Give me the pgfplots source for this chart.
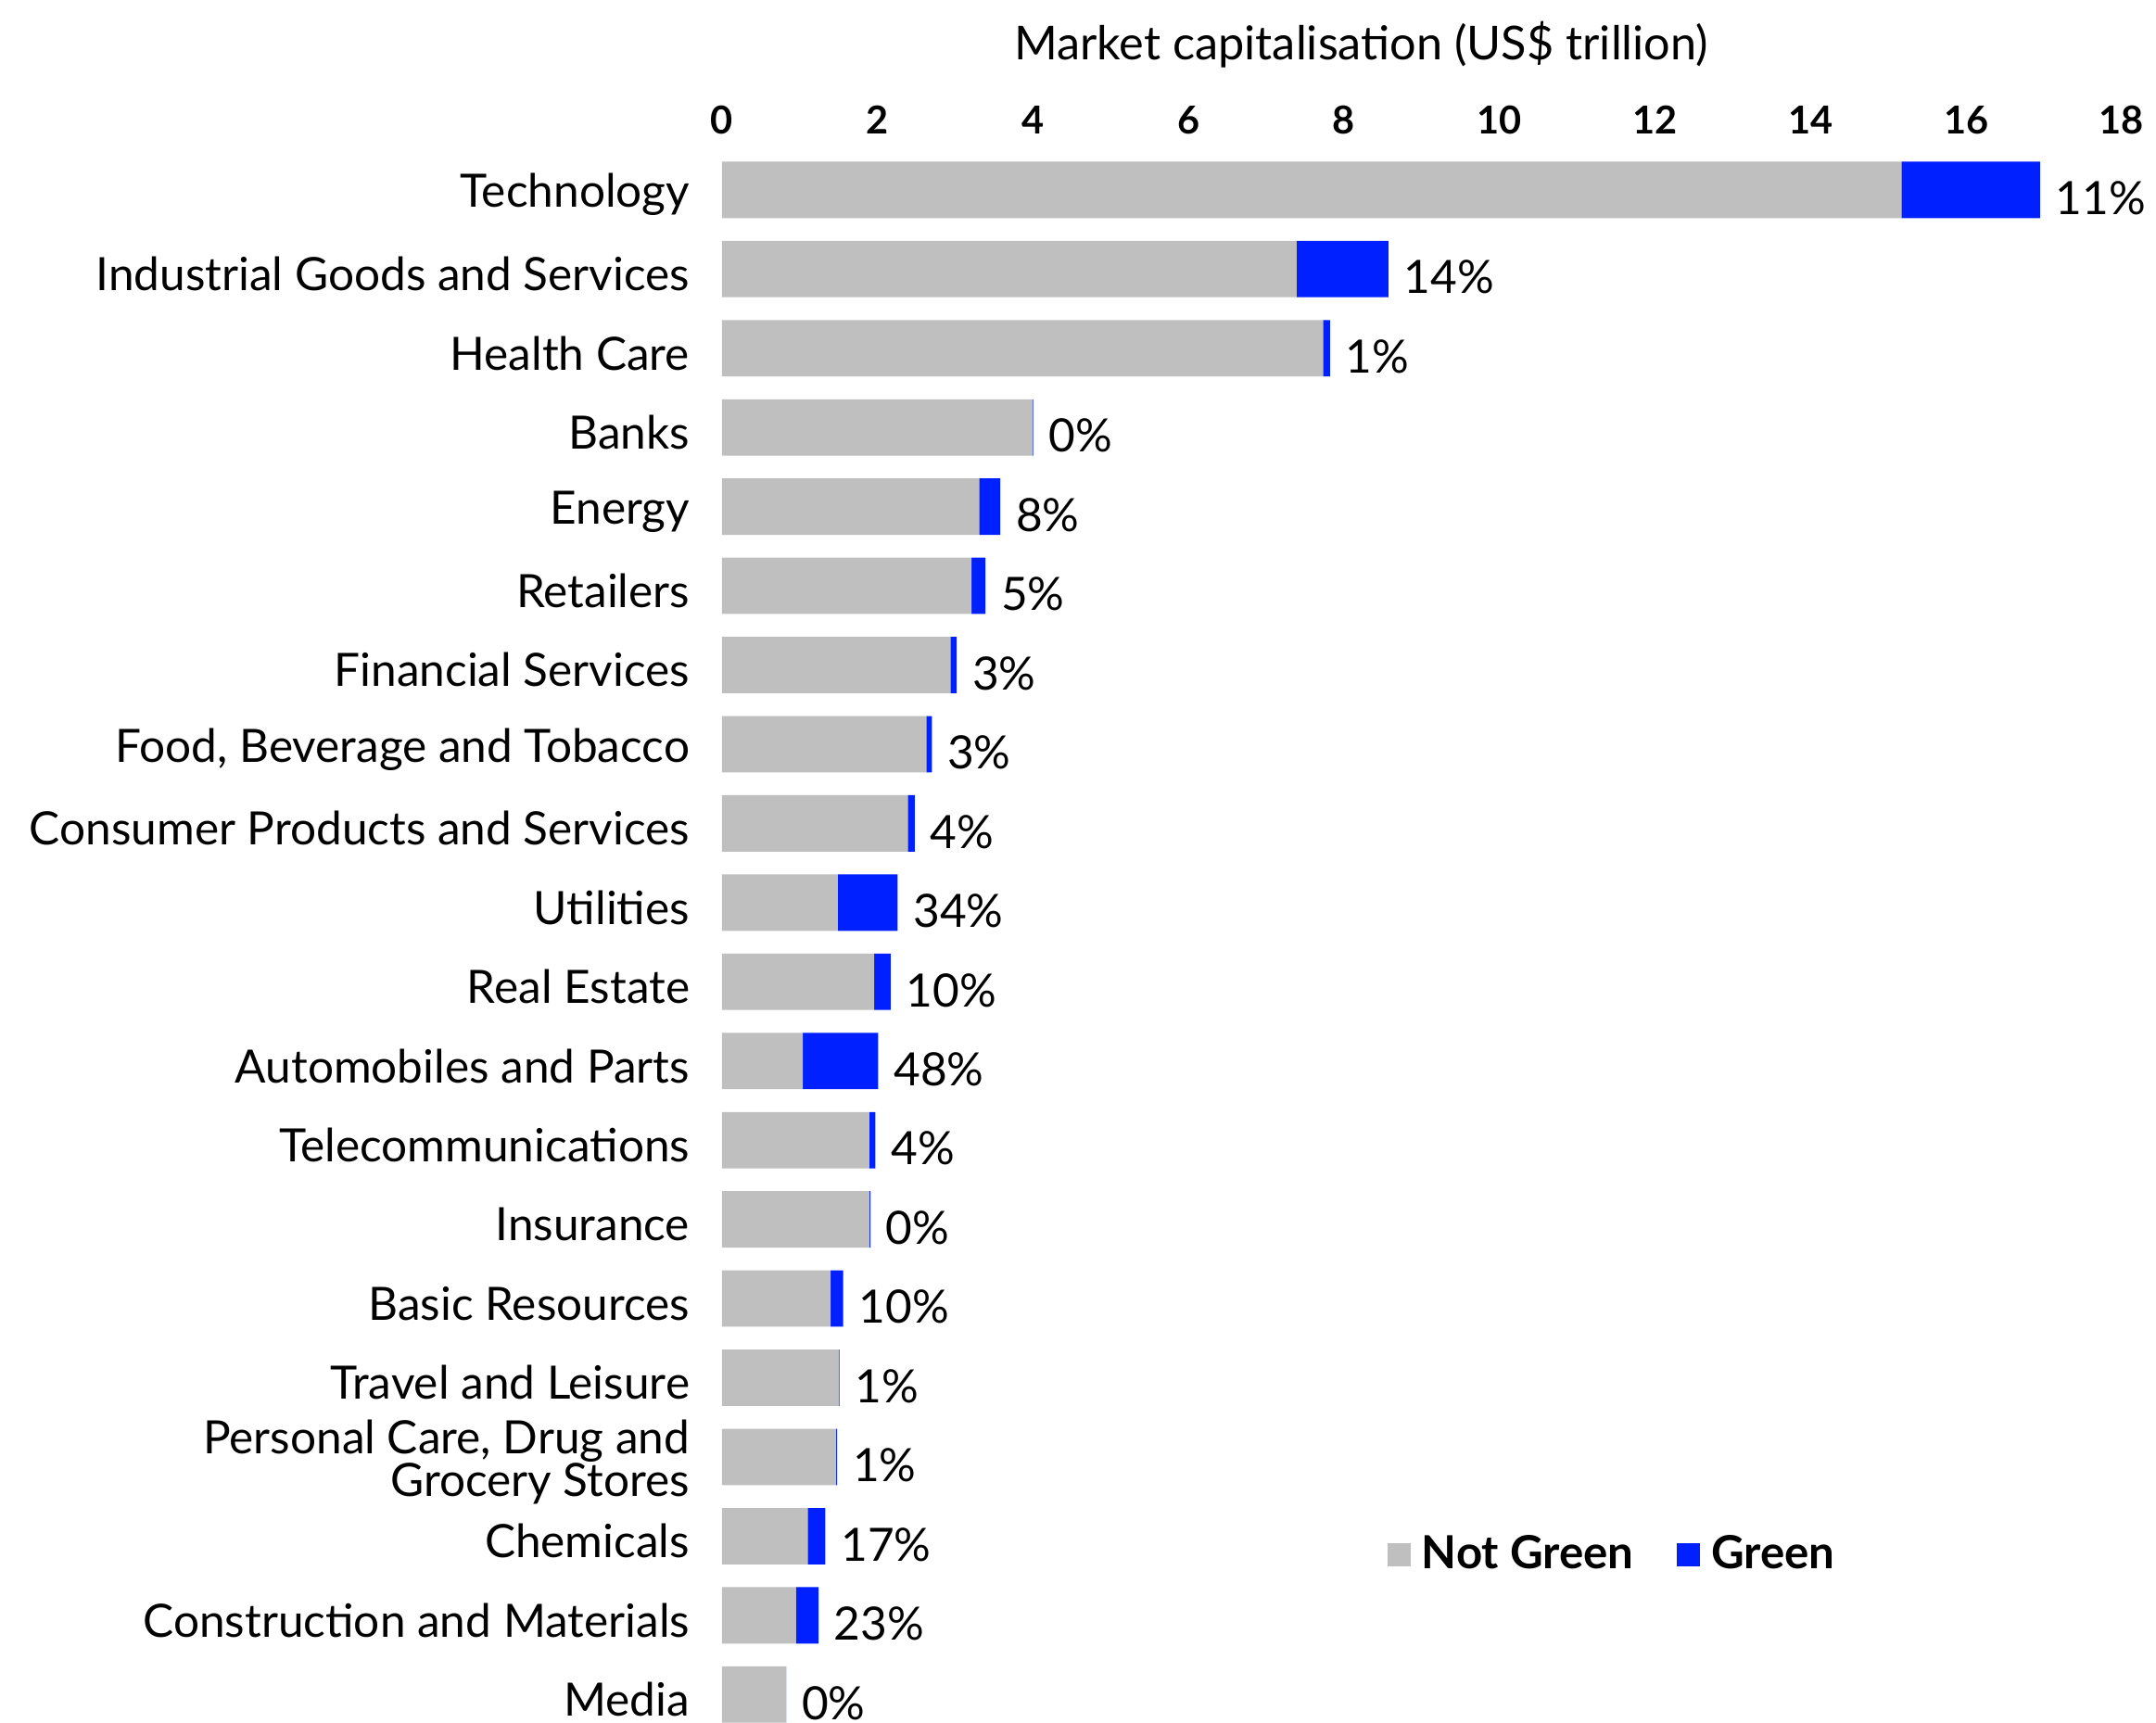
\documentclass[border=0pt]{standalone}
\usepackage{fontspec}
\setmainfont{Lato}
\usepackage{pgfplots}
\usepackage{pgfplotstable}
\pgfplotsset{compat=1.18}
\definecolor{notgreen}{RGB}{191,191,191}
\definecolor{greenc}{RGB}{0,32,255}

% y: 19 = Technology (top) ... 0 = Media (bottom)
\pgfplotstableread{
y grey green pct
19 15.17 1.78 11
18 7.39 1.18 14
17 7.73 0.09 1
16 3.99 0.012 0
15 3.31 0.27 8
14 3.21 0.18 5
13 2.94 0.08 3
12 2.63 0.07 3
11 2.39 0.09 4
10 1.49 0.77 34
9 1.96 0.21 10
8 1.04 0.97 48
7 1.895 0.08 4
6 1.90 0.01 0
5 1.40 0.16 10
4 1.50 0.012 1
3 1.47 0.012 1
2 1.105 0.226 17
1 0.953 0.29 23
0 0.826 0.001 0
}\datatable

\begin{document}
\begin{tikzpicture}
\begin{axis}[
  name=ax,
  scale only axis,
  width=509pt, height=571.85pt,
  xbar stacked,
  bar width=20.5pt,
  xmin=0, xmax=18,
  ymin=-0.356, ymax=19.5,
  xtick={0,2,...,18},
  xticklabel pos=upper,
  ytick={0,...,19},
  yticklabels={Media, Construction and Materials, Chemicals, {Personal Care, Drug and\\Grocery Stores}, Travel and Leisure, Basic Resources, Insurance, Telecommunications, Automobiles and Parts, Real Estate, Utilities, Consumer Products and Services, {Food, Beverage and Tobacco}, Financial Services, Retailers, Energy, Banks, Health Care, Industrial Goods and Services, Technology},
  axis line style={draw=none},
  major tick length=0pt,
  tick style={draw=none},
  clip=false,
  /pgf/number format/assume math mode=true,
  xticklabel style={font=\bfseries\fontsize{14}{14}\selectfont, anchor=base, inner sep=0pt, yshift=5.8pt},
  yticklabel style={font=\fontsize{16.7}{15.5}\selectfont, anchor=east, align=right, inner sep=0pt, xshift=-11.5pt, yshift=-1.8pt},
  title={Market capitalisation (US\$ trillion)},
  title style={at={(0.4568,1)}, anchor=base, inner sep=0pt, yshift=26.8pt, font=\fontsize{17}{17}\selectfont},
  legend columns=2,
  legend style={at={(0.475,0.107)}, anchor=west, draw=none, fill=none, inner sep=0pt,
    nodes={inner sep=0pt}, font=\bfseries\fontsize{16.6}{16.6}\selectfont,
    /tikz/every odd column/.append style={column sep=4pt},
    /tikz/every even column/.append style={column sep=15.75pt}},
  legend image code/.code={\fill[#1] (0pt,-4.25pt) rectangle (8.5pt,4.25pt);},
]
\addplot[fill=notgreen, draw=none] table[x=grey, y=y] {\datatable};
\addlegendentry{Not Green}
\addplot[fill=greenc, draw=none,
  visualization depends on={\thisrow{green} \as \gw},
  nodes near coords={\pgfplotspointmeta\%},
  point meta=explicit symbolic,
  nodes near coords style={anchor=base west, inner sep=0pt, xshift={\gw*14.1389pt+5.5pt}, yshift=-9pt, font=\fontsize{16.7}{16.7}\selectfont, text=black},
] table[x=green, y=y, meta=pct] {\datatable};
\addlegendentry{Green}
\end{axis}
\pgfresetboundingbox
\path[use as bounding box] (ax.south west) ++(-262.5pt,0) rectangle ++(784pt,626.5pt);
\end{tikzpicture}
\end{document}
